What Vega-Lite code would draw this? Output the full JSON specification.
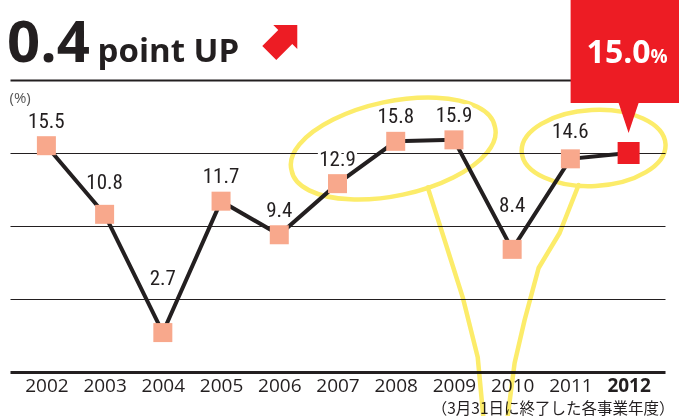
{
  "$schema": "https://vega.github.io/schema/vega-lite/v6.json",
  "width": 655,
  "height": 292,
  "autosize": "none",
  "padding": {"left": 10, "top": 80, "right": 14, "bottom": 44},
  "background": "white",
  "config": {"view": {"stroke": null}, "font": "Open Sans"},
  "title": {
    "text": "0.4",
    "anchor": "start",
    "frame": "group",
    "orient": "top",
    "offset": -74,
    "dx": -3,
    "font": "Open Sans",
    "fontSize": 58,
    "fontWeight": "bold",
    "color": "#231f20"
  },
  "data": {
    "values": [
      {"year": 2002, "value": 15.5},
      {"year": 2003, "value": 10.8},
      {"year": 2004, "value": 2.7},
      {"year": 2005, "value": 11.7},
      {"year": 2006, "value": 9.4},
      {"year": 2007, "value": 12.9},
      {"year": 2008, "value": 15.8},
      {"year": 2009, "value": 15.9},
      {"year": 2010, "value": 8.4},
      {"year": 2011, "value": 14.6},
      {"year": 2012, "value": 15.0}
    ]
  },
  "encoding": {
    "x": {
      "field": "year",
      "type": "ordinal",
      "scale": {"padding": 0.625},
      "axis": {
        "labelAngle": 0,
        "labelFont": "Open Sans",
        "labelFontSize": 19,
        "labelColor": "#231f20",
        "labelPadding": 4,
        "labelFontWeight": {"condition": {"test": "datum.value == 2012", "value": "bold"}, "value": "normal"},
        "ticks": false,
        "grid": false,
        "domainColor": "#231f20",
        "domainWidth": 3,
        "title": "（3月31日に終了した各事業年度）",
        "titleFont": "Noto Sans CJK JP",
        "titleFontSize": 15.5,
        "titleFontWeight": "normal",
        "titleColor": "#231f20",
        "titleAnchor": "end",
        "titleAlign": "right",
        "titleX": 664,
        "titlePadding": 6
      }
    },
    "y": {
      "field": "value",
      "type": "quantitative",
      "scale": {"domain": [0, 20], "nice": false},
      "axis": {
        "values": [5, 10, 15, 20],
        "grid": true,
        "gridColor": "#231f20",
        "gridWidth": {"condition": {"test": "datum.value == 20", "value": 2}, "value": 1},
        "labels": false,
        "ticks": false,
        "domain": false,
        "title": "(%)",
        "titleAngle": 0,
        "titleAlign": "left",
        "titleBaseline": "middle",
        "titleX": -1,
        "titleY": 17,
        "titleFont": "Open Sans",
        "titleFontSize": 15,
        "titleFontWeight": "normal",
        "titleColor": "#555555"
      }
    }
  },
  "layer": [
    {
      "transform": [{"filter": "datum.year == 2008"}],
      "mark": {
        "type": "point",
        "shape": "M99.2,-14.4 A104,46,-12,1,1,-104.2,28.8 A104,46,-12,1,1,99.2,-14.4 M32,46 L48,96 L67,156 L82,216 L88,280",
        "size": 4,
        "filled": false,
        "stroke": "#fcec6a",
        "strokeWidth": 4.5,
        "strokeCap": "round",
        "strokeJoin": "round",
        "opacity": 1,
        "blend": "multiply"
      }
    },
    {
      "transform": [{"filter": "datum.year == 2012"}],
      "mark": {
        "type": "point",
        "shape": "M36.9,-8.8 A72,38,-3,1,1,-106.9,-1.2 A72,38,-3,1,1,36.9,-8.8 M-50,32 L-69,80 L-90,115 L-104,167 L-114,210 L-121,264",
        "size": 4,
        "filled": false,
        "stroke": "#fcec6a",
        "strokeWidth": 4.5,
        "strokeCap": "round",
        "strokeJoin": "round",
        "opacity": 1,
        "blend": "multiply"
      }
    },
    {
      "mark": {"type": "line", "color": "#231f20", "strokeWidth": 4}
    },
    {
      "mark": {"type": "square", "opacity": 1, "filled": true},
      "encoding": {
        "color": {"condition": {"test": "datum.year == 2012", "value": "#ed1c24"}, "value": "#f8a88c"},
        "size": {"condition": {"test": "datum.year == 2012", "value": 484}, "value": 361}
      }
    },
    {
      "transform": [{"filter": "datum.year != 2012"}],
      "mark": {
        "type": "text",
        "font": "'Roboto Condensed', 'Liberation Sans Narrow', 'Open Sans'",
        "fontSize": 21,
        "align": "center",
        "baseline": "alphabetic",
        "fill": "white",
        "stroke": "white",
        "strokeWidth": 6,
        "dy": {"expr": "datum.year == 2004 ? -48 : datum.year == 2010 ? -37 : datum.year == 2003 ? -25 : datum.year == 2011 ? -21 : -18"}
      },
      "encoding": {"text": {"field": "value", "type": "quantitative", "format": ".1f"}}
    },
    {
      "transform": [{"filter": "datum.year != 2012"}],
      "mark": {
        "type": "text",
        "font": "'Roboto Condensed', 'Liberation Sans Narrow', 'Open Sans'",
        "fontSize": 21,
        "align": "center",
        "baseline": "alphabetic",
        "color": "#231f20",
        "dy": {"expr": "datum.year == 2004 ? -48 : datum.year == 2010 ? -37 : datum.year == 2003 ? -25 : datum.year == 2011 ? -21 : -18"}
      },
      "encoding": {"text": {"field": "value", "type": "quantitative", "format": ".1f"}}
    },
    {
      "transform": [{"filter": "datum.year == 2012"}],
      "mark": {
        "type": "point",
        "shape": "M-58,-153 L52,-153 L52,-50 L10,-50 L0,-20 L-10,-50 L-58,-50 Z",
        "size": 4,
        "filled": true,
        "color": "#ed1c24",
        "opacity": 1
      }
    },
    {
      "transform": [{"filter": "datum.year == 2012"}],
      "mark": {
        "type": "text",
        "font": "Open Sans",
        "fontSize": 32,
        "fontWeight": "bold",
        "color": "white",
        "align": "center",
        "baseline": "alphabetic",
        "dx": -10,
        "dy": -90
      },
      "encoding": {"text": {"field": "value", "type": "quantitative", "format": ".1f"}}
    },
    {
      "transform": [{"filter": "datum.year == 2012"}],
      "mark": {
        "type": "text",
        "font": "Open Sans",
        "fontSize": 19,
        "fontWeight": "bold",
        "color": "white",
        "align": "left",
        "baseline": "alphabetic",
        "dx": 22,
        "dy": -90
      },
      "encoding": {"text": {"value": "%"}}
    },
    {
      "transform": [{"filter": "datum.year == 2003"}],
      "mark": {
        "type": "text",
        "font": "Open Sans",
        "fontSize": 33,
        "fontWeight": "bold",
        "color": "#231f20",
        "align": "left",
        "baseline": "alphabetic",
        "dx": -7
      },
      "encoding": {
        "y": {"datum": 21.2, "type": "quantitative"},
        "text": {"value": "point UP"}
      }
    },
    {
      "transform": [{"filter": "datum.year == 2006"}],
      "mark": {
        "type": "point",
        "shape": "M-6,-17 L18,-17 L18,7 L13,2 L-3,18 L-17,4 L-1,-12 Z",
        "size": 4,
        "filled": true,
        "color": "#ed1c24",
        "opacity": 1
      },
      "encoding": {
        "y": {"datum": 22.6, "type": "quantitative"}
      }
    }
  ]
}
